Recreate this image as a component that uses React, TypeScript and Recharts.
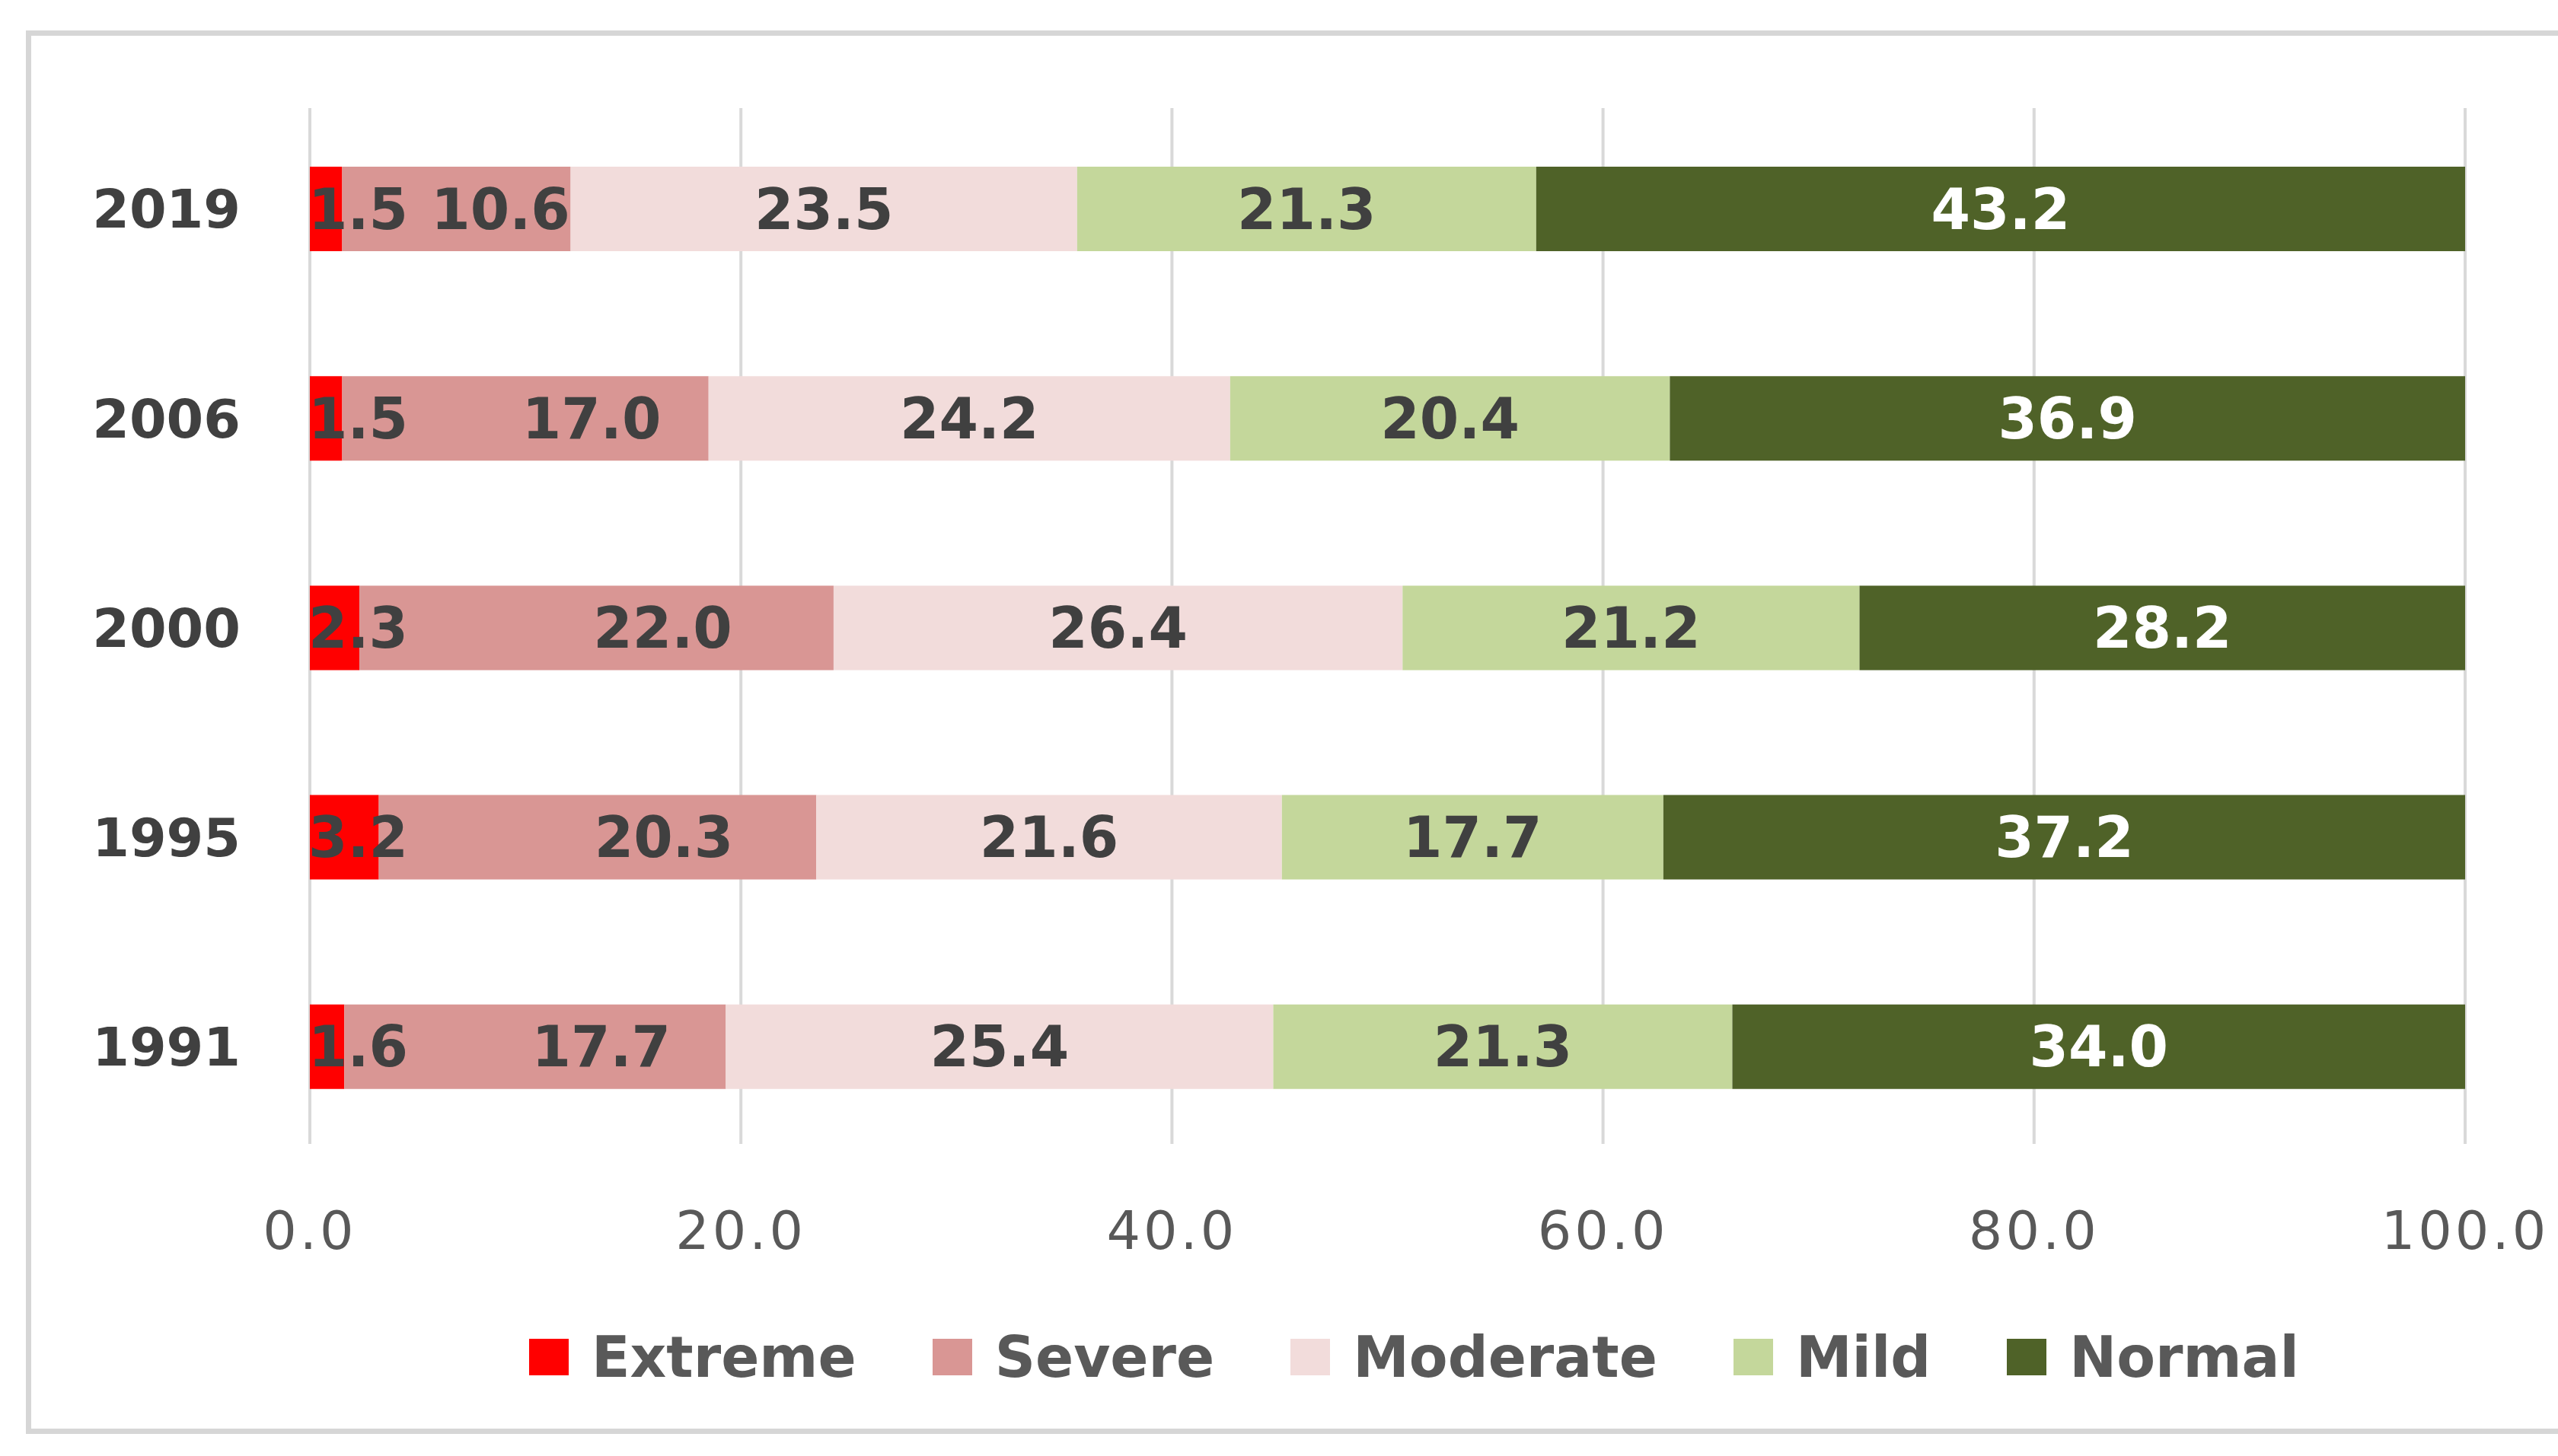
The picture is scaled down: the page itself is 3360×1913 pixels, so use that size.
import React from "react";
import {
  BarChart,
  Bar,
  XAxis,
  YAxis,
  CartesianGrid,
  Legend,
  LabelList,
} from "recharts";

const years = ["2019", "2006", "2000", "1995", "1991"];
const extreme = [1.5, 1.5, 2.3, 3.2, 1.6];
const severe = [10.6, 17.0, 22.0, 20.3, 17.7];
const moderate = [23.5, 24.2, 26.4, 21.6, 25.4];
const mild = [21.3, 20.4, 21.2, 17.7, 21.3];
const normal = [43.2, 36.9, 28.2, 37.2, 34.0];
const xTicks = [0, 20, 40, 60, 80, 100];

const FONT = "'DejaVu Sans', sans-serif";

const series = [
  { key: "Extreme", values: extreme, color: "#FF0000", text: "#404040", mode: "start" },
  { key: "Severe", values: severe, color: "#D99694", text: "#404040", mode: "shift" },
  { key: "Moderate", values: moderate, color: "#F2DCDB", text: "#404040", mode: "center" },
  { key: "Mild", values: mild, color: "#C4D79B", text: "#404040", mode: "center" },
  { key: "Normal", values: normal, color: "#4F6228", text: "#FFFFFF", mode: "center" },
];

const data = years.map((year, i) => {
  const row: any = { year };
  series.forEach((s) => {
    row[s.key] = s.values[i];
  });
  return row;
});

const makeLabel = (mode: string, fill: string) => (props: any) => {
  const { x, y, width, height, value } = props;
  const cy = Number(y) + Number(height) / 2;
  let cx = Number(x) + Number(width) / 2;
  let anchor = "middle";
  if (mode === "start") {
    cx = Number(x) - 2;
    anchor = "start";
  } else if (mode === "shift") {
    cx += Math.max(0, Math.min(87, Number(width) / 2 - 92));
  }
  return (
    <text
      x={cx}
      y={cy}
      textAnchor={anchor}
      dominantBaseline="central"
      fill={fill}
      fontSize={74}
      fontWeight="bold"
      fontFamily={FONT}
    >
      {Number(value).toFixed(1)}
    </text>
  );
};

const LegendContent = () => (
  <div
    style={{
      display: "flex",
      alignItems: "center",
      paddingLeft: 695,
      fontFamily: FONT,
      fontWeight: "bold",
      fontSize: 74,
      color: "#595959",
    }}
  >
    {series.map((s) => (
      <div key={s.key} style={{ display: "flex", alignItems: "center", marginRight: 100 }}>
        <span style={{ width: 52, height: 48, background: s.color, marginRight: 30 }} />
        <span>{s.key}</span>
      </div>
    ))}
  </div>
);

const App = () => {
  return (
    <div
      style={{
        position: "absolute",
        left: 0,
        top: 0,
        width: 3360,
        height: 1913,
        background: "#fff",
        overflow: "hidden",
      }}
    >
      <div
        style={{
          position: "absolute",
          left: 34,
          top: 40,
          width: 3400,
          height: 1830,
          border: "7px solid #D6D6D6",
        }}
      />
      <div style={{ position: "absolute", left: 0, top: 0 }}>
        <BarChart
          width={3360}
          height={1913}
          data={data}
          layout="vertical"
          margin={{ top: 137, right: 122, bottom: 0, left: 0 }}
          barSize={111}
        >
          <CartesianGrid
            horizontal={false}
            stroke="#D9D9D9"
            strokeWidth={4}
            y={142}
            height={1361}
          />
          <XAxis
            type="number"
            domain={[0, 100]}
            ticks={xTicks}
            allowDataOverflow
            height={400}
            axisLine={false}
            tickLine={false}
            tickMargin={72}
            tickFormatter={(v: number) => v.toFixed(1)}
            tick={{ fill: "#595959", fontSize: 70, fontFamily: FONT, letterSpacing: 4 }}
          />
          <YAxis
            type="category"
            dataKey="year"
            width={407}
            axisLine={false}
            tickLine={false}
            tickMargin={85}
            tick={{ fill: "#404040", fontSize: 70, fontWeight: "bold", fontFamily: FONT }}
          />
          <Legend
            layout="horizontal"
            verticalAlign="middle"
            align="center"
            content={<LegendContent />}
            wrapperStyle={{ top: 1740, left: 0, width: 3360 }}
          />
          {series.map((s) => (
            <Bar
              key={s.key}
              dataKey={s.key}
              stackId="a"
              fill={s.color}
              isAnimationActive={false}
            >
              <LabelList dataKey={s.key} content={makeLabel(s.mode, s.text)} />
            </Bar>
          ))}
        </BarChart>
      </div>
    </div>
  );
};

export default App;
